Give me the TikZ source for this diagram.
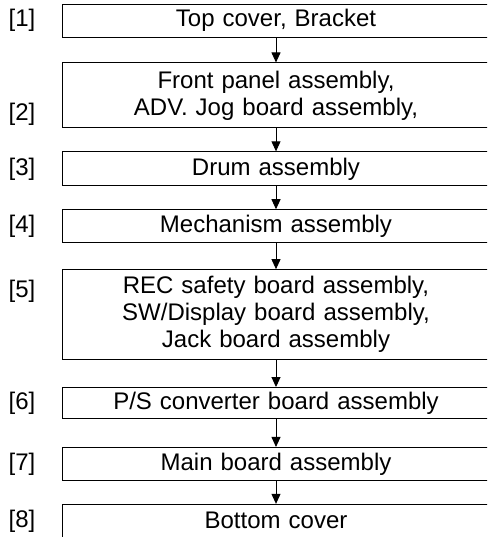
\documentclass[tikz,border=0pt]{standalone}
\usepackage{fontspec}
\setmainfont{Liberation Sans}
\usetikzlibrary{arrows.meta,positioning}

\begin{document}
\begin{tikzpicture}[x=1pt, y=1pt, node distance=23pt,
  every node/.style={font=\fontsize{24}{27}\selectfont},
  stage/.style={draw, rectangle, line width=0.9pt, minimum width=428pt, minimum height=33pt, text width=410pt, align=center, inner sep=3pt},
  tag/.style={anchor=west, inner sep=0pt}]

\useasboundingbox (0,0) rectangle (487,-537);
\clip (0,0) rectangle (487,-537);

\node[stage] (top) at (276,-20.5) {Top cover, Bracket};
\node[stage, minimum height=65pt] (front) [below=25pt of top] {Front panel assembly,\\ADV. Jog board assembly,};
\node[stage, minimum height=34pt] (drum) [below=of front] {Drum assembly};
\node[stage] (mech) [below=of drum] {Mechanism assembly};
\node[stage, minimum height=90pt] (boards) [below=26pt of mech] {REC safety board assembly,\\SW/Display board assembly,\\Jack board assembly};
\node[stage, minimum height=31pt] (psconv) [below=27pt of boards] {P/S converter board assembly};
\node[stage] (mainbd) [below=28pt of psconv] {Main board assembly};
\node[stage] (bottom) [below=of mainbd] {Bottom cover};

\coordinate (tagcol) at (8.5,0);
\node[tag] (n1) at (tagcol |- top) {[1]};
\node[tag, yshift=-19pt] (n2) at (tagcol |- front) {[2]};
\node[tag] (n3) at (tagcol |- drum) {[3]};
\node[tag] (n4) at (tagcol |- mech) {[4]};
\node[tag, yshift=23pt] (n5) at (tagcol |- boards) {[5]};
\node[tag] (n6) at (tagcol |- psconv) {[6]};
\node[tag] (n7) at (tagcol |- mainbd) {[7]};
\node[tag] (n8) at (tagcol |- bottom) {[8]};

\draw[-{Triangle[length=10pt,width=9pt]}, line width=0.9pt] (top) -- (front);
\draw[-{Triangle[length=10pt,width=9pt]}, line width=0.9pt] (front) -- (drum);
\draw[-{Triangle[length=10pt,width=9pt]}, line width=0.9pt] (drum) -- (mech);
\draw[-{Triangle[length=10pt,width=9pt]}, line width=0.9pt] (mech) -- (boards);
\draw[-{Triangle[length=10pt,width=9pt]}, line width=0.9pt] (boards) -- (psconv);
\draw[-{Triangle[length=10pt,width=9pt]}, line width=0.9pt] (psconv) -- (mainbd);
\draw[-{Triangle[length=10pt,width=9pt]}, line width=0.9pt] (mainbd) -- (bottom);

\end{tikzpicture}
\end{document}
